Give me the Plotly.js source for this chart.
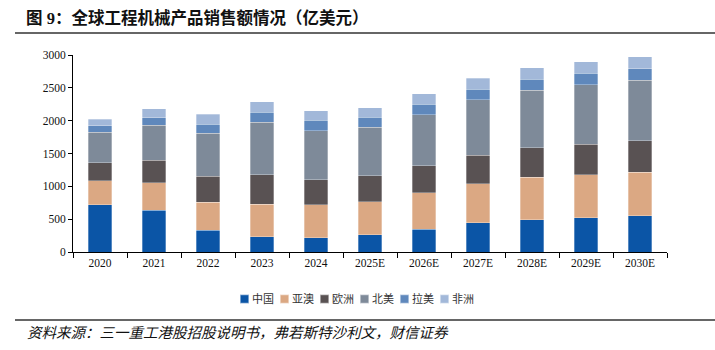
<!DOCTYPE html>
<html>
<head>
<meta charset="utf-8">
<script src="https://cdn.plot.ly/plotly-3.0.1.min.js"></script>
<style>
  html, body { margin: 0; padding: 0; background: #ffffff; }
  #chart { width: 715px; height: 350px; }
</style>
</head>
<body>
<div id="chart"></div>
<script>
// Global construction machinery sales by region (100 million USD)
const years = ['2020', '2021', '2022', '2023', '2024', '2025E', '2026E', '2027E', '2028E', '2029E', '2030E'];
const regionNames = ['中国', '亚澳', '欧洲', '北美', '拉美', '非洲'];

const china        = [721, 635, 330, 233, 218, 259, 350, 442, 492, 523, 553];
const asiaPacific  = [365, 416, 426, 493, 498, 507, 554, 594, 645, 655, 665];
const europe       = [274, 345, 396, 452, 385, 396, 411, 441, 452, 462, 477];
const northAmerica = [462, 533, 655, 797, 742, 736, 776, 843, 873, 908, 919];
const latinAmerica = [102, 112, 142, 152, 162, 153, 158, 162, 172, 173, 178];
const africa       = [101, 142, 152, 162, 147, 147, 162, 163, 173, 177, 183];

const seriesValues = [china, asiaPacific, europe, northAmerica, latinAmerica, africa];
const colors = ['#0b55a6', '#dba883', '#595253', '#7e8a99', '#5f88bc', '#a2b8d9'];

const serif = '"Liberation Serif", "Noto Sans CJK SC", serif';

const traces = seriesValues.map((vals, i) => ({
  type: 'bar',
  name: regionNames[i],
  x: years,
  y: vals,
  marker: { color: colors[i], line: { color: 'rgba(255,255,255,0.6)', width: 0.5 } },
  hoverinfo: 'x+y+name'
}));

const layout = {
  width: 715,
  height: 350,
  paper_bgcolor: '#ffffff',
  plot_bgcolor: '#ffffff',
  barmode: 'stack',
  bargap: 0.56,
  margin: { l: 73, r: 48, t: 55, b: 98 },
  showlegend: true,
  legend: {
    orientation: 'h',
    x: 0.5, xanchor: 'center',
    y: -0.165, yanchor: 'top',
    font: { family: serif, size: 11, color: '#333333' },
    itemwidth: 30,
    itemsizing: 'constant',
    traceorder: 'normal',
    tracegroupgap: 0
  },
  xaxis: {
    type: 'category',
    showline: true, linecolor: '#000000', linewidth: 1,
    ticks: 'outside', tickson: 'boundaries', ticklen: 5, tickcolor: '#000000',
    tickfont: { family: serif, size: 11.5, color: '#111111' },
    showgrid: false, zeroline: false,
    fixedrange: true
  },
  yaxis: {
    range: [0, 3000],
    dtick: 500,
    showline: true, linecolor: '#000000', linewidth: 1,
    ticks: 'outside', ticklen: 4, tickcolor: '#000000',
    tickfont: { family: serif, size: 11.5, color: '#111111' },
    showgrid: false, zeroline: false,
    fixedrange: true
  },
  shapes: [
    { type: 'line', xref: 'paper', yref: 'paper',
      x0: -58 / 594, x1: 1.25, y0: 1 + 22 / 197, y1: 1 + 22 / 197,
      line: { color: '#333333', width: 1.5 } },
    { type: 'line', xref: 'paper', yref: 'paper',
      x0: -58 / 594, x1: 1.25, y0: -68 / 197, y1: -68 / 197,
      line: { color: '#333333', width: 1.5 } }
  ],
  annotations: [
    { xref: 'paper', yref: 'paper', x: -49 / 594, y: 1 + 37 / 197,
      xanchor: 'left', yanchor: 'middle', showarrow: false,
      text: '<b>图 9：全球工程机械产品销售额情况（亿美元）</b>',
      font: { family: serif, size: 16.5, color: '#111111' } },
    { xref: 'paper', yref: 'paper', x: -48 / 594, y: -81 / 197,
      xanchor: 'left', yanchor: 'middle', showarrow: false,
      text: '<i>资料来源：三一重工港股招股说明书，弗若斯特沙利文，财信证券</i>',
      font: { family: serif, size: 14.5, color: '#111111' } }
  ]
};

// Pack the legend entries tightly: small square, label right after it.
function compactLegend(gd) {
  const legend = gd.querySelector('g.legend');
  if (!legend) return;
  const items = Array.from(legend.querySelectorAll('g.traces'));
  const gap = 6;
  const squareGap = 3;
  let cursor = 0;
  items.forEach(item => {
    const pts = item.querySelector('.legendpoints');
    const txt = item.querySelector('text.legendtext');
    if (!pts || !txt) return;
    pts.querySelectorAll('path').forEach(p => {
      const t = p.getAttribute('transform') || '';
      p.setAttribute('transform', t + ' scale(0.75)');
    });
    const bb = pts.getBBox();
    const textX = bb.x + bb.width + squareGap;
    txt.setAttribute('x', textX);
    const tl = txt.getComputedTextLength();
    const m = /translate\(\s*([-\d.]+)[ ,]+([-\d.]+)\s*\)/.exec(item.getAttribute('transform') || '');
    const y = m ? parseFloat(m[2]) : 0;
    item.setAttribute('transform', 'translate(' + (cursor - bb.x) + ',' + y + ')');
    cursor += (textX + tl) - bb.x + gap;
  });
  const total = cursor - gap;
  const lm = /translate\(\s*([-\d.]+)[ ,]+([-\d.]+)\s*\)/.exec(legend.getAttribute('transform') || '');
  const ly = lm ? parseFloat(lm[2]) : 0;
  legend.setAttribute('transform', 'translate(' + (357 - total / 2) + ',' + ly + ')');
}

Plotly.newPlot('chart', traces, layout, { displayModeBar: false, staticPlot: true })
  .then(compactLegend);
</script>
</body>
</html>
